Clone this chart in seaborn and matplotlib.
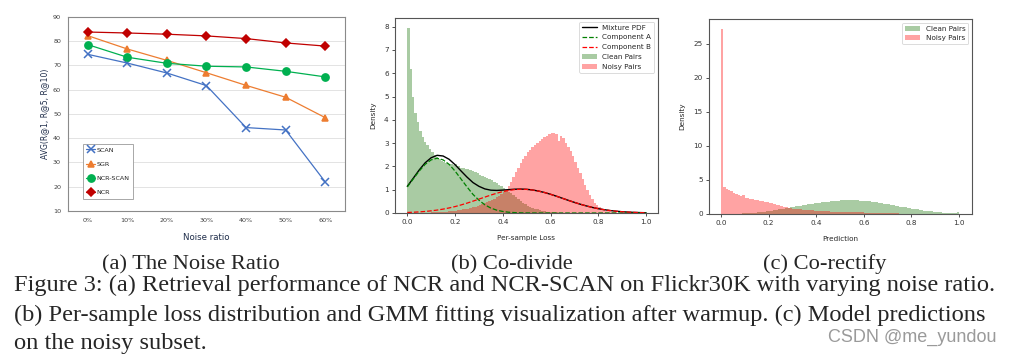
import numpy as np
import pandas as pd
import matplotlib
matplotlib.use("Agg")
import matplotlib.pyplot as plt
import seaborn as sns

# ---------------- data ----------------
noise_ratios = ["0%", "10%", "20%", "30%", "40%", "50%", "60%"]
scan = [74.6, 71.0, 66.9, 61.7, 44.4, 43.4, 22.0]
sgr = [82.3, 76.8, 72.1, 67.0, 61.8, 56.9, 48.5]
ncr_scan = [78.6, 73.4, 70.9, 69.7, 69.4, 67.6, 65.3]
ncr = [83.8, 83.4, 82.9, 82.2, 81.1, 79.3, 78.0]

# (b) per-sample loss histograms, density per 0.01-wide bin on [0, 1)
clean_loss = [7.95, 6.2, 5.0, 4.3, 3.9, 3.5, 3.25, 3.05, 2.9, 2.75,
              2.6, 2.5, 2.4, 2.3, 2.25, 2.2, 2.15, 2.1, 2.12, 2.05,
              2.1, 2.0, 1.95, 1.92, 1.9, 1.87, 1.83, 1.8, 1.75, 1.7,
              1.65, 1.6, 1.55, 1.5, 1.45, 1.4, 1.35, 1.28, 1.22, 1.15,
              1.08, 1.0, 0.92, 0.84, 0.76, 0.68, 0.6, 0.52, 0.45, 0.38,
              0.32, 0.27, 0.22, 0.18, 0.15, 0.12, 0.1, 0.08, 0.06, 0.05,
              0.04, 0.03, 0.03, 0.02, 0.02, 0.01, 0.01, 0.01, 0.01, 0.01,
              0, 0, 0, 0, 0, 0, 0, 0, 0, 0,
              0, 0, 0, 0, 0, 0, 0, 0, 0, 0,
              0, 0, 0, 0, 0, 0, 0, 0, 0, 0]
noisy_loss = [0, 0, 0, 0, 0.01, 0.01, 0.01, 0.02, 0.02, 0.02,
              0.03, 0.03, 0.04, 0.04, 0.05, 0.05, 0.06, 0.07, 0.08, 0.09,
              0.10, 0.11, 0.13, 0.15, 0.17, 0.19, 0.21, 0.24, 0.27, 0.30,
              0.34, 0.38, 0.42, 0.46, 0.51, 0.56, 0.62, 0.68, 0.74, 0.80,
              0.88, 1.0, 1.15, 1.35, 1.55, 1.75, 1.95, 2.15, 2.3, 2.45,
              2.6, 2.72, 2.82, 2.92, 3.0, 3.08, 3.18, 3.25, 3.32, 3.38,
              3.45, 3.42, 3.38, 3.1, 3.3, 3.2, 3.0, 2.85, 2.65, 2.45,
              2.2, 1.95, 1.7, 1.45, 1.2, 0.98, 0.78, 0.6, 0.45, 0.35,
              0.26, 0.19, 0.14, 0.1, 0.07, 0.05, 0.04, 0.03, 0.02, 0.01,
              0.01, 0.01, 0, 0, 0, 0, 0, 0, 0, 0]

# (b) GMM curves read at loss = 0, 0.025, ..., 1.0
curve_loss = [0.0, 0.025, 0.05, 0.075, 0.1, 0.125, 0.15, 0.175, 0.2, 0.225,
              0.25, 0.275, 0.3, 0.325, 0.35, 0.375, 0.4, 0.425, 0.45, 0.475,
              0.5, 0.525, 0.55, 0.575, 0.6, 0.625, 0.65, 0.675, 0.7, 0.725,
              0.75, 0.775, 0.8, 0.825, 0.85, 0.875, 0.9, 0.925, 0.95, 0.975, 1.0]
component_a = [1.12, 1.46, 1.80, 2.09, 2.28, 2.35, 2.28, 2.09, 1.80, 1.46,
               1.12, 0.80, 0.55, 0.35, 0.21, 0.12, 0.065, 0.032, 0.016, 0.007,
               0.003, 0.001, 0, 0, 0, 0, 0, 0, 0, 0,
               0, 0, 0, 0, 0, 0, 0, 0, 0, 0, 0]
component_b = [0.022, 0.032, 0.047, 0.066, 0.092, 0.125, 0.166, 0.216, 0.275, 0.345,
               0.422, 0.507, 0.595, 0.683, 0.769, 0.849, 0.918, 0.970, 1.005, 1.02,
               1.013, 0.986, 0.940, 0.878, 0.803, 0.719, 0.630, 0.541, 0.455, 0.375,
               0.303, 0.239, 0.185, 0.141, 0.104, 0.076, 0.054, 0.038, 0.026, 0.017, 0.011]
mixture = [1.142, 1.492, 1.847, 2.156, 2.372, 2.475, 2.446, 2.306, 2.075, 1.805,
           1.542, 1.307, 1.145, 1.033, 0.979, 0.969, 0.983, 1.002, 1.021, 1.027,
           1.016, 0.987, 0.940, 0.878, 0.803, 0.719, 0.630, 0.541, 0.455, 0.375,
           0.303, 0.239, 0.185, 0.141, 0.104, 0.076, 0.054, 0.038, 0.026, 0.017, 0.011]

# (c) prediction histograms, density per 0.01-wide bin on [0, 1)
clean_pred = [0.01, 0.01, 0.02, 0.02, 0.03, 0.04, 0.05, 0.06, 0.07, 0.08,
              0.1, 0.12, 0.14, 0.17, 0.2, 0.23, 0.27, 0.31, 0.35, 0.4,
              0.45, 0.5, 0.56, 0.62, 0.68, 0.74, 0.8, 0.87, 0.94, 1.0,
              1.06, 1.12, 1.18, 1.24, 1.3, 1.35, 1.41, 1.46, 1.51, 1.56,
              1.61, 1.66, 1.7, 1.74, 1.78, 1.82, 1.86, 1.9, 1.93, 1.96,
              1.98, 2.0, 2.02, 2.05, 2.03, 2.02, 2.0, 1.99, 1.97, 1.95,
              1.92, 1.89, 1.85, 1.8, 1.75, 1.7, 1.64, 1.58, 1.52, 1.46,
              1.4, 1.34, 1.28, 1.22, 1.15, 1.09, 1.03, 0.97, 0.91, 0.85,
              0.79, 0.73, 0.67, 0.62, 0.56, 0.51, 0.46, 0.42, 0.38, 0.34,
              0.3, 0.27, 0.24, 0.21, 0.19, 0.17, 0.15, 0.14, 0.14, 0.22]
noisy_pred = [27.2, 3.9, 3.7, 3.5, 3.3, 3.15, 3.0, 2.85, 2.65, 2.75,
              2.4, 2.3, 2.2, 2.15, 2.08, 2.0, 1.95, 1.87, 1.8, 1.72,
              1.65, 1.55, 1.45, 1.35, 1.25, 1.15, 1.07, 0.99, 0.92, 0.86,
              0.8, 0.76, 0.72, 0.68, 0.64, 0.61, 0.58, 0.55, 0.52, 0.49,
              0.47, 0.45, 0.43, 0.41, 0.39, 0.37, 0.35, 0.34, 0.33, 0.32,
              0.31, 0.30, 0.29, 0.28, 0.27, 0.26, 0.25, 0.24, 0.23, 0.22,
              0.21, 0.2, 0.19, 0.18, 0.17, 0.16, 0.15, 0.14, 0.13, 0.12,
              0.11, 0.10, 0.09, 0.08, 0.08, 0.07, 0.06, 0.06, 0.05, 0.05,
              0.04, 0.04, 0.03, 0.03, 0.03, 0.02, 0.02, 0.02, 0.02, 0.01,
              0.01, 0.01, 0.01, 0.01, 0.01, 0.01, 0.01, 0.01, 0.01, 0.01]

subcaptions = ["(a) The Noise Ratio", "(b) Co-divide", "(c) Co-rectify"]
caption_lines = [
    "Figure 3: (a) Retrieval performance of NCR and NCR-SCAN on Flickr30K with varying noise ratio.",
    "(b) Per-sample loss distribution and GMM fitting visualization after warmup. (c) Model predictions",
    "on the noisy subset.",
]
watermark = "CSDN @me_yundou"

# ---------------- style ----------------
sns.set_style("ticks")
plt.rcParams["font.family"] = ["DejaVu Sans"]

fig = plt.figure(figsize=(10.12, 3.57), dpi=100)

# ---------------- (a) ----------------
ax1 = fig.add_axes([0.0672, 0.4090, 0.2737, 0.5434])
pos = np.arange(len(noise_ratios))
series = [
    ("SCAN", scan, "#4472C4", "x", 5.2),
    ("SGR", sgr, "#ED7D31", "^", 4.8),
    ("NCR-SCAN", ncr_scan, "#00B050", "o", 5.2),
    ("NCR", ncr, "#C00000", "D", 3.8),
]
for name, vals, col, mk, ms in series:
    sns.lineplot(x=pos, y=vals, ax=ax1, color=col, marker=mk, markersize=ms,
                 markeredgecolor=col, markerfacecolor=col,
                 markeredgewidth=1.1, linewidth=0.9, label=name)
ax1.set_xlim(-0.5, 6.5)
ax1.set_ylim(10, 90)
ax1.set_yticks(range(10, 91, 10))
ax1.set_xticks(pos)
ax1.set_xticklabels(noise_ratios)
ax1.yaxis.grid(True, color="#e3e3e3", linewidth=0.7)
ax1.set_axisbelow(True)
for s in ax1.spines.values():
    s.set_color("#8a8a8a")
    s.set_linewidth(0.8)
ax1.tick_params(length=0, labelsize=4.6, colors="#404040", pad=5)
ax1.set_xlabel("Noise ratio", fontsize=6.2, color="#1f2d4a", labelpad=7)
ax1.set_ylabel("AVG(R@1, R@5, R@10)", fontsize=5.6, color="#1f2d4a", labelpad=3)
leg1 = ax1.legend(loc="lower left", bbox_to_anchor=(0.054, 0.062), borderaxespad=0,
                  fontsize=4.6, fancybox=False, edgecolor="#9a9a9a", framealpha=1,
                  labelspacing=1.375, handlelength=1.4, handletextpad=0.2,
                  borderpad=0.55)
leg1.get_frame().set_linewidth(0.6)

edges = np.linspace(0, 1, 101)
centers = (edges[:-1] + edges[1:]) / 2


def style_mpl(ax):
    for s in ax.spines.values():
        s.set_color("#555555")
        s.set_linewidth(0.8)
    ax.tick_params(length=2.5, width=0.6, labelsize=5.2, colors="#333333", pad=2)


def hist(ax, heights, color, alpha, label):
    df = pd.DataFrame({"x": centers, "w": heights})
    sns.histplot(data=df, x="x", weights="w", bins=100, binrange=(0, 1),
                 stat="count", ax=ax, color=color, alpha=alpha, linewidth=0,
                 label=label)


GREEN = "#2a7f1a"

# ---------------- (b) ----------------
ax2 = fig.add_axes([0.3903, 0.4034, 0.2599, 0.5462])
hist(ax2, clean_loss, GREEN, 0.4, "Clean Pairs")
hist(ax2, noisy_loss, "red", 0.36, "Noisy Pairs")
sns.lineplot(x=curve_loss, y=mixture, ax=ax2, color="black", linewidth=1.0,
             label="Mixture PDF")
sns.lineplot(x=curve_loss, y=component_a, ax=ax2, color="green", linewidth=0.9,
             linestyle="--", label="Component A")
sns.lineplot(x=curve_loss, y=component_b, ax=ax2, color="red", linewidth=0.9,
             linestyle="--", label="Component B")
ax2.set_xlim(-0.0515, 1.05)
ax2.set_ylim(0, 8.37)
ax2.set_xticks([0.0, 0.2, 0.4, 0.6, 0.8, 1.0])
style_mpl(ax2)
ax2.set_xlabel("Per-sample Loss", fontsize=5.2, labelpad=7)
ax2.set_ylabel("Density", fontsize=5.2, labelpad=6)
h, l = ax2.get_legend_handles_labels()
order = ["Mixture PDF", "Component A", "Component B", "Clean Pairs", "Noisy Pairs"]
hd = dict(zip(l, h))
leg2 = ax2.legend([hd[k] for k in order], order, loc="upper right", fontsize=5.25)
leg2.get_frame().set_linewidth(0.6)

# ---------------- (c) ----------------
ax3 = fig.add_axes([0.7006, 0.4006, 0.2599, 0.5462])
hist(ax3, clean_pred, GREEN, 0.4, "Clean Pairs")
hist(ax3, noisy_pred, "red", 0.36, "Noisy Pairs")
ax3.set_xlim(-0.05, 1.0546)
ax3.set_ylim(0, 28.6)
ax3.set_xticks([0.0, 0.2, 0.4, 0.6, 0.8, 1.0])
ax3.set_yticks([0, 5, 10, 15, 20, 25])
style_mpl(ax3)
ax3.set_xlabel("Prediction", fontsize=5.2, labelpad=7)
ax3.set_ylabel("Density", fontsize=5.2, labelpad=6)
leg3 = ax3.legend(loc="upper right", fontsize=5.25)
leg3.get_frame().set_linewidth(0.6)

# ---------------- captions ----------------
serif = ["Liberation Serif", "DejaVu Serif"]
for txt, xc in zip(subcaptions, [191 / 1012, 512 / 1012, 825 / 1012]):
    fig.text(xc, 1 - 269 / 357, txt, ha="center", va="baseline", fontsize=16.2,
             family=serif)
for txt, yb in zip(caption_lines, [291, 321, 349]):
    fig.text(14 / 1012, 1 - yb / 357, txt, ha="left", va="baseline", fontsize=17.6,
             family=serif)
fig.text(997 / 1012, 1 - 342 / 357, watermark, ha="right", va="baseline",
         fontsize=13.0, color="#9a9a9a", family=["Liberation Sans", "DejaVu Sans"])

fig.savefig("out.png", dpi=100)
